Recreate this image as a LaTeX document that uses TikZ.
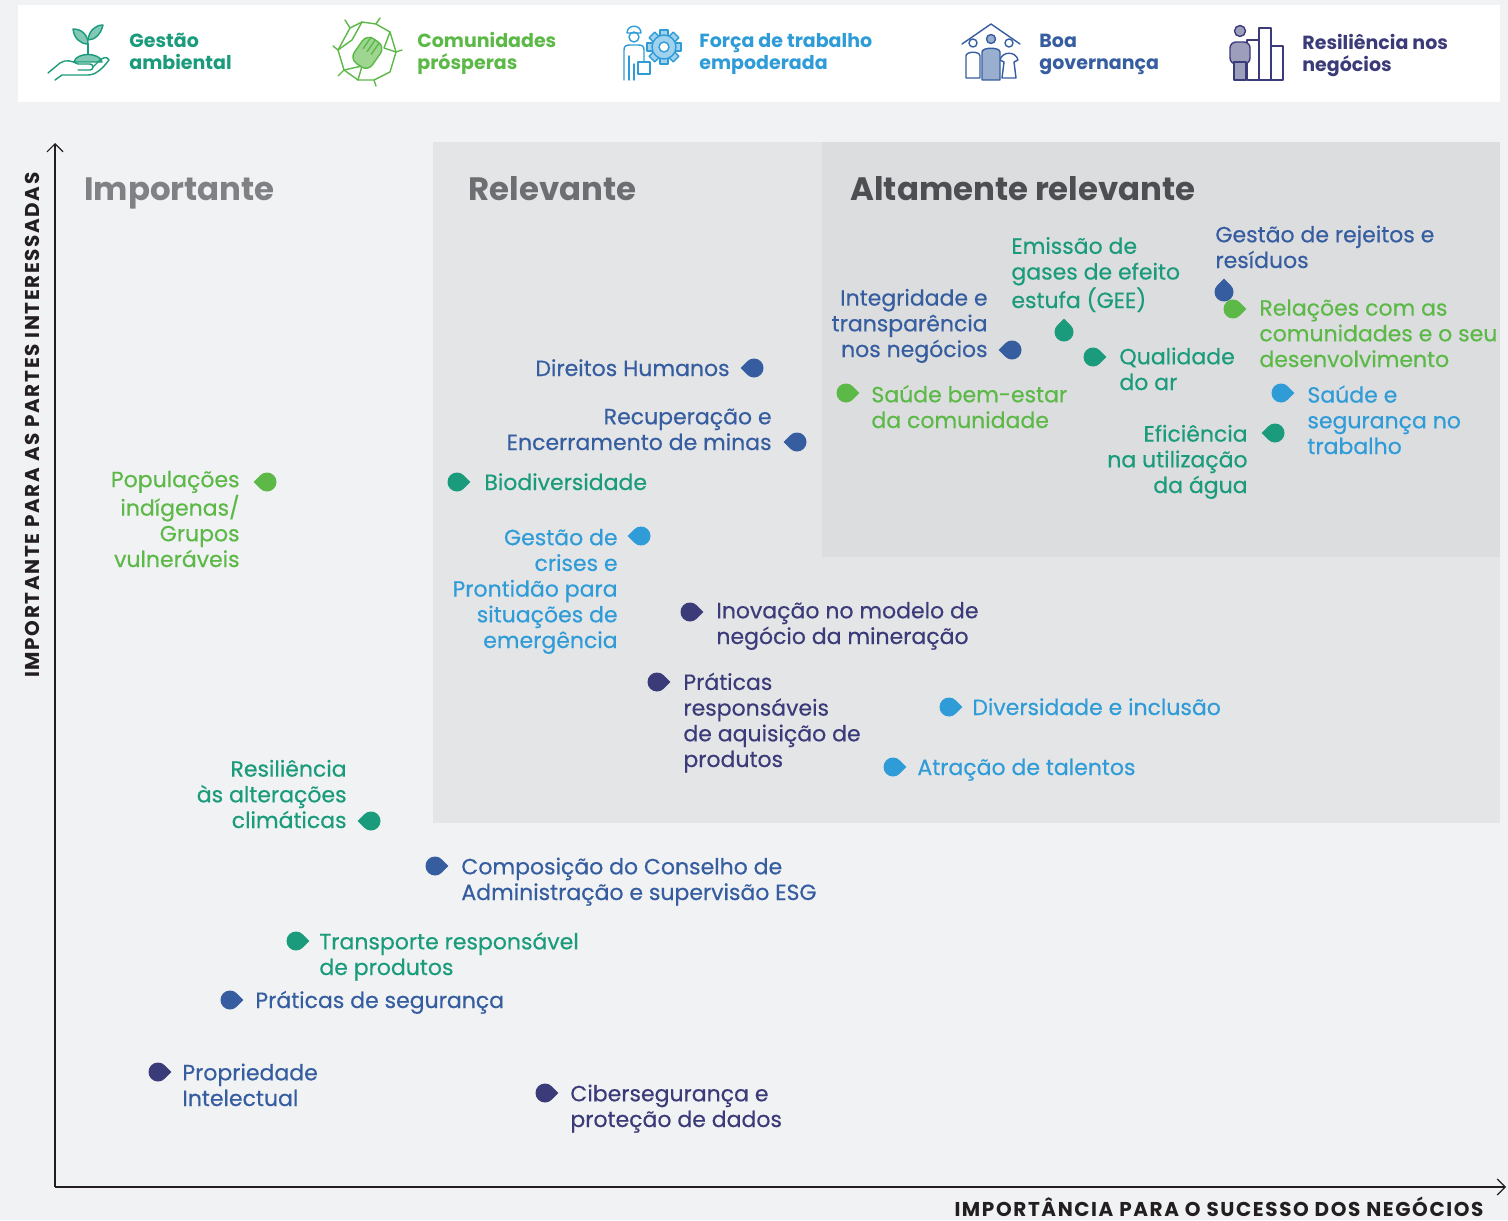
\documentclass[tikz,border=0pt]{standalone}
\usepackage{fontspec}
\setmainfont{Poppins}
\usetikzlibrary{arrows.meta}
\definecolor{ga}{HTML}{1A9B7B}
\definecolor{cp}{HTML}{5CB947}
\definecolor{ft}{HTML}{2F9CD8}
\definecolor{bg}{HTML}{355D9F}
\definecolor{rn}{HTML}{3C3B79}
\definecolor{fundo}{HTML}{F1F2F4}
\definecolor{relev}{HTML}{E4E5E7}
\definecolor{altrel}{HTML}{DCDDDF}
\definecolor{cinzaimp}{HTML}{808184}
\definecolor{cinzarel}{HTML}{6D6E71}
\definecolor{cinzaalt}{HTML}{4D4E51}
\definecolor{eixo}{HTML}{231F20}

\newcommand{\rotulo}{\fontsize{11}{12.85}\selectfont\addfontfeature{FakeBold=0.4}}
\newcommand{\legenda}{\fontsize{9.5}{11}\selectfont\bfseries}
\newcommand{\titulofonte}{\fontsize{16.2}{18}\selectfont\bfseries}
\newcommand{\eixofonte}{\fontsize{10}{12}\selectfont\bfseries\addfontfeature{LetterSpace=8}}

\tikzset{
  txt/.style={font=\rotulo, inner sep=0pt, align=left, anchor=base west},
  txtr/.style={font=\rotulo, inner sep=0pt, align=right, anchor=base east},
  leg/.style={font=\legenda, inner sep=0pt, align=left, anchor=base west},
  titulo/.style={font=\titulofonte, inner sep=0pt, anchor=base west},
  eixotxt/.style={font=\eixofonte, text=eixo, inner sep=0pt, text depth=0pt},
  icone/.style={line width=0.7pt, line join=round, line cap=round},
  pics/gota/.style={code={
    \fill[#1] (45:9.5) arc[start angle=45, end angle=315, radius=9.5] -- (13.4,0) -- cycle;
  }}
}

\begin{document}
\begin{tikzpicture}[x=0.5pt, y=-0.5pt]
  \useasboundingbox (0,0) rectangle (1508,1220);
  % fundo e faixas
  \fill[fundo] (0,0) rectangle (1508,1220);
  \fill[white] (18,5) rectangle (1500,102);
  \fill[relev] (433,142) rectangle (1500,823);
  \fill[altrel] (822,142) rectangle (1500,557);

  % legenda: icones
  \begin{scope}[icone, draw=ga]
    \filldraw[fill=ga!55] (88,44) .. controls (80,44) and (74,38) .. (73,29) .. controls (82,29) and (88,35) .. (88,44);
    \filldraw[fill=ga!55] (88,40) .. controls (95,40) and (101,34) .. (103,25) .. controls (95,25) and (89,31) .. (88,40);
    \draw (88,44) -- (88,54);
    \filldraw[fill=ga!55] (74,62) .. controls (76,52) and (100,52) .. (102,62) -- cycle;
    \draw (48,73) -- (60,63) .. controls (66,59) and (72,61) .. (78,64) -- (90,64) .. controls (94,64) and (94,70) .. (90,70) -- (78,70);
    \draw (55,80) -- (62,75) -- (88,75) .. controls (96,75) and (103,68) .. (109,60) .. controls (107,56) and (103,57) .. (98,62) -- (93,67);
  \end{scope}
  \begin{scope}[icone, draw=cp]
    \draw (350,28) -- (362,22) -- (376,24) -- (390,32) -- (396,52) -- (390,72) -- (374,80) -- (358,80) -- (344,70) -- (338,50) -- cycle;
    \draw (350,28) -- (345,20) (376,24) -- (380,18) (396,52) -- (402,50) (374,80) -- (376,86) (344,70) -- (338,76) (338,50) -- (333,46);
    \draw (362,22) -- (352,40) -- (338,50) (390,32) -- (384,48) -- (396,52) (358,80) -- (362,66) -- (344,70);
    \filldraw[fill=cp!60, rounded corners=4pt, rotate around={-35:(368,52)}] (357,38) -- (379,38) -- (379,68) -- (357,68) -- cycle;
    \draw[rotate around={-35:(368,52)}] (362,38) -- (362,52) (367,38) -- (367,52) (372,38) -- (372,52);
  \end{scope}
  \begin{scope}[icone, draw=ft]
    \draw (634,37) circle (5);
    \draw (627,33) .. controls (627,24) and (641,24) .. (641,33) -- cycle;
    \draw (624,80) -- (624,50) .. controls (624,46) and (626,45) .. (630,45) -- (638,45) .. controls (642,45) and (644,46) .. (644,50) -- (644,62);
    \draw (629,56) -- (629,80) (634,64) -- (634,80);
    \foreach \a in {0,45,...,315}
      \filldraw[fill=ft!45, rotate around={\a:(664,47)}] (660,30) rectangle (668,36);
    \filldraw[fill=ft!45] (664,47) circle (12);
    \filldraw[fill=white] (664,47) circle (5);
    \filldraw[fill=white] (638,62) rectangle (650,74);
  \end{scope}
  \begin{scope}[icone, draw=bg]
    \draw (962,44) -- (991,24) -- (1020,44);
    \draw (973,43) circle (4);
    \draw (1009,43) circle (4);
    \filldraw[fill=bg!50] (991,39) circle (4.5);
    \draw (966,78) -- (966,56) .. controls (966,51) and (980,51) .. (980,56) -- (980,78) -- cycle;
    \draw (1002,78) -- (1004,62) -- (1000,60) .. controls (1002,51) and (1016,51) .. (1018,60) -- (1014,62) -- (1016,78) -- cycle;
    \filldraw[fill=bg!50] (982,80) -- (982,52) .. controls (982,47) and (1000,47) .. (1000,52) -- (1000,80) -- cycle;
  \end{scope}
  \begin{scope}[icone, draw=rn]
    \draw (1247,40) rectangle (1259,80);
    \draw (1259,28) rectangle (1271,80);
    \draw (1271,46) rectangle (1283,80);
    \filldraw[fill=rn!50] (1240,31) circle (5.5);
    \filldraw[fill=rn!50, rounded corners=3pt] (1230,64) -- (1230,42) -- (1250,42) -- (1250,64) -- cycle;
    \filldraw[fill=rn!50] (1234,62) rectangle (1246,80);
  \end{scope}

  % legenda: textos (base = ultima linha)
  \node[leg, text=ga] (lga) at (129,70) {Gestão\\ambiental};
  \node[leg, text=cp] (lcp) at (417,70) {Comunidades\\prósperas};
  \node[leg, text=ft] (lft) at (699,70) {Força de trabalho\\empoderada};
  \node[leg, text=bg] (lbg) at (1039,70) {Boa\\governança};
  \node[leg, text=rn] (lrn) at (1302,72) {Resiliência nos\\negócios};

  % eixos
  \coordinate (origem) at (55,1187);
  \coordinate (topo) at (55,143);
  \coordinate (fim) at (1506,1187);
  \draw[eixo, line width=0.6pt, -{Straight Barb[length=4pt, width=8pt]}] (origem) -- (topo);
  \draw[eixo, line width=0.6pt, -{Straight Barb[length=4pt, width=8pt]}] (origem) -- (fim);
  \node[eixotxt, anchor=base] (ex) at (1219,1216) {IMPORTÂNCIA PARA O SUCESSO DOS NEGÓCIOS};
  \node[eixotxt, rotate=90] (ey) at (32,425) {IMPORTANTE PARA AS PARTES INTERESSADAS};

  % titulos
  \node[titulo, text=cinzaimp] (timp) at (84,200) {Importante};
  \node[titulo, text=cinzarel] (trel) at (468,200) {Relevante};
  \node[titulo, text=cinzaalt] (talt) at (850,200) {Altamente relevante};

  % temas (base = ultima linha)
  \pic[rotate=180] at (267,482) {gota=cp};
  \node[txtr, text=cp] (pop) at (240,567) {Populações\\indígenas/\\Grupos\\vulneráveis};
  \pic[rotate=180] at (754,368) {gota=bg};
  \node[txtr, text=bg] (dh) at (730,376) {Direitos Humanos};
  \pic[rotate=180] at (797,442) {gota=bg};
  \node[txtr, text=bg] (rec) at (772,450) {Recuperação e\\Encerramento de minas};
  \pic at (457,482) {gota=ga};
  \node[txt, text=ga] (bio) at (484,490) {Biodiversidade};
  \pic[rotate=180] at (641,536) {gota=ft};
  \node[txtr, text=ft] (cri) at (618,648) {Gestão de\\crises e\\Prontidão para\\situações de\\emergência};
  \pic at (690,612) {gota=rn};
  \node[txt, text=rn] (ino) at (716,644) {Inovação no modelo de\\negócio da mineração};
  \pic at (657,682) {gota=rn};
  \node[txt, text=rn] (pra) at (683,767) {Práticas\\responsáveis\\de aquisição de\\produtos};
  \pic at (949,707) {gota=ft};
  \node[txt, text=ft] (div) at (972,715) {Diversidade e inclusão};
  \pic at (893,767) {gota=ft};
  \node[txt, text=ft] (atr) at (917,775) {Atração de talentos};
  \pic[rotate=180] at (371,821) {gota=ga};
  \node[txtr, text=ga] (cli) at (347,828) {Resiliência\\às alterações\\climáticas};
  \pic at (435,866) {gota=bg};
  \node[txt, text=bg] (con) at (461,900) {Composição do Conselho de\\Administração e supervisão ESG};
  \pic at (296,941) {gota=ga};
  \node[txt, text=ga] (tra) at (319,975) {Transporte responsável\\de produtos};
  \pic at (230,1000) {gota=bg};
  \node[txt, text=bg] (seg) at (255,1008) {Práticas de segurança};
  \pic at (158,1072) {gota=rn};
  \node[txt, text=bg] (pro) at (182,1106) {Propriedade\\Intelectual};
  \pic at (545,1093) {gota=rn};
  \node[txt, text=rn] (cib) at (570,1127) {Cibersegurança e\\proteção de dados};
  % altamente relevante
  \pic[rotate=180] at (1012,350) {gota=bg};
  \node[txtr, text=bg] (int) at (988,357) {Integridade e\\transparência\\nos negócios};
  \pic[rotate=90] at (1064,332) {gota=ga};
  \node[txt, text=ga] (gee) at (1011,308) {Emissão de\\gases de efeito\\estufa (GEE)};
  \pic at (1093,357) {gota=ga};
  \node[txt, text=ga] (ar) at (1119,390) {Qualidade\\do ar};
  \pic at (846,393) {gota=cp};
  \node[txt, text=cp] (sbe) at (871,428) {Saúde bem-estar\\da comunidade};
  \pic[rotate=90] at (1224,292) {gota=bg};
  \node[txt, text=bg] (rej) at (1215,268) {Gestão de rejeitos e\\resíduos};
  \pic at (1233,309) {gota=cp};
  \node[txt, text=cp] (com) at (1259,367) {Relações com as\\comunidades e o seu\\desenvolvimento};
  \pic at (1281,393) {gota=ft};
  \node[txt, text=ft] (sst) at (1307,454) {Saúde e\\segurança no\\trabalho};
  \pic[rotate=180] at (1275,433) {gota=ga};
  \node[txtr, text=ga] (agu) at (1248,493) {Eficiência\\na utilização\\da água};
\end{tikzpicture}
\end{document}
